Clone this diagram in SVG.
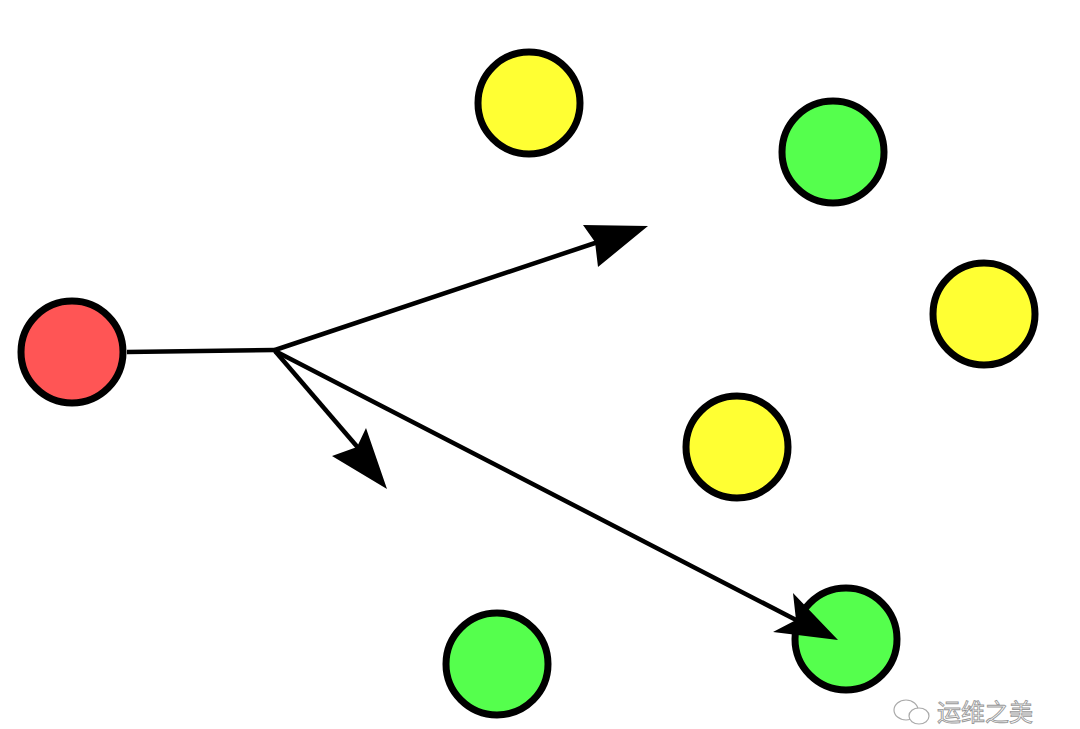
<svg xmlns="http://www.w3.org/2000/svg" width="1080" height="729" viewBox="0 0 1080 729">
<style>
.n{stroke:#000;stroke-width:7}
.red{fill:#ff5555}
.yel{fill:#ffff33}
.grn{fill:#55ff4d}
.ln{stroke:#000;stroke-width:4.5;fill:none}
.ah{fill:#000;stroke:none}
.wm{font-family:"Noto Sans CJK SC","Noto Sans CJK TC",sans-serif;font-size:24px;fill:#fff;stroke:#999;stroke-width:0.9}
</style>
<rect width="1080" height="729" fill="#fff"/>
<g id="node-red"><circle class="n red" cx="72" cy="352" r="51"/></g>
<g id="node-yellow1"><circle class="n yel" cx="529" cy="103" r="51"/></g>
<g id="node-green1"><circle class="n grn" cx="833" cy="152" r="51"/></g>
<g id="node-yellow2"><circle class="n yel" cx="984" cy="314" r="51"/></g>
<g id="node-yellow3"><circle class="n yel" cx="737" cy="447" r="51"/></g>
<g id="node-green2"><circle class="n grn" cx="497" cy="664" r="51"/></g>
<g id="node-green3"><circle class="n grn" cx="846" cy="639" r="51"/></g>
<g id="connectors">
<polyline class="ln" points="127,352 275,350"/>
<line class="ln" x1="275" y1="350" x2="610" y2="238"/>
<polygon class="ah" points="648,226 583,225 595,242 598,267"/>
<line class="ln" x1="275" y1="351" x2="360" y2="450"/>
<polygon class="ah" points="387,489 366,428 357,447 332,456"/>
<line class="ln" x1="275" y1="351" x2="800" y2="622"/>
<polygon class="ah" points="838,640 793,593 796,620 773,632"/>
</g>
<g id="watermark">
<ellipse cx="906" cy="710" rx="12" ry="10" fill="#fff" stroke="#aaa" stroke-width="1.2"/>
<ellipse cx="919" cy="716" rx="10" ry="8" fill="#fff" stroke="#aaa" stroke-width="1.2"/>
<text class="wm" x="937" y="721">运维之美</text>
</g>
</svg>
